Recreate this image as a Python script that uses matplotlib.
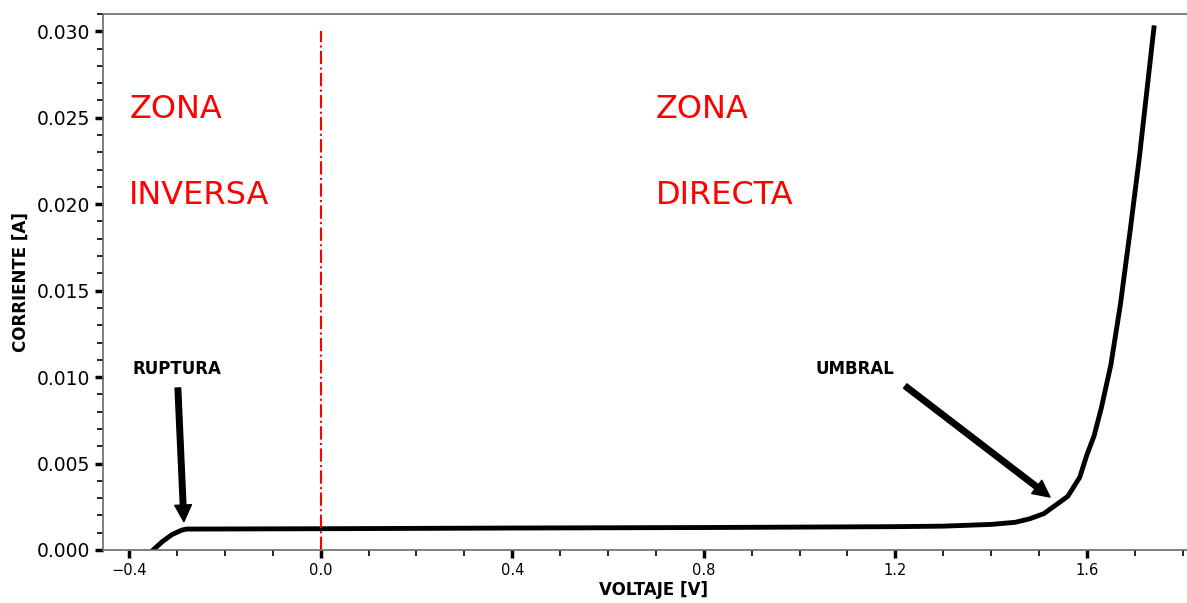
import numpy as np
import matplotlib
matplotlib.use("Agg")
import matplotlib.pyplot as plt
from matplotlib.ticker import MultipleLocator

# curva I-V del diodo
voltaje = [-0.35, -0.33, -0.31, -0.29, -0.28, 0.0, 0.4, 0.8, 1.2, 1.3, 1.4,
           1.45, 1.48, 1.51, 1.56, 1.585, 1.60, 1.615, 1.63, 1.65, 1.67,
           1.69, 1.71, 1.74]
corriente = [0.0, 0.0005, 0.0009, 0.00115, 0.00121, 0.00123, 0.00127,
             0.0013, 0.00135, 0.00138, 0.00148, 0.0016, 0.0018, 0.0021,
             0.0031, 0.0042, 0.0055, 0.0066, 0.0082, 0.0107, 0.0142,
             0.0184, 0.0228, 0.0302]

x_ticks = [-0.4, 0.0, 0.4, 0.8, 1.2, 1.6]
y_ticks = [0.000, 0.005, 0.010, 0.015, 0.020, 0.025, 0.030]

fig = plt.figure(figsize=(11.87, 6.03), dpi=100)
ax = fig.add_axes([0.0868, 0.0879, 0.9275, 0.8889])

ax.plot(voltaje, corriente, color="black", linewidth=3.5)
ax.vlines(0, 0, 0.030, colors="red", linestyles="-.", linewidth=1.5)

ax.text(-0.4, 0.025, "ZONA", color="red", fontsize=23)
ax.text(-0.4, 0.020, "INVERSA", color="red", fontsize=23)
ax.text(0.7, 0.025, "ZONA", color="red", fontsize=23)
ax.text(0.7, 0.020, "DIRECTA", color="red", fontsize=23)

ax.annotate("RUPTURA", xy=(-0.285, 0.0012), xytext=(-0.392, 0.0102),
            fontsize=12, fontweight="bold",
            arrowprops=dict(facecolor="black", shrink=0.05))
ax.annotate("UMBRAL", xy=(1.54, 0.0027), xytext=(1.033, 0.0102),
            fontsize=12, fontweight="bold",
            arrowprops=dict(facecolor="black", shrink=0.05))

ax.set_xlim(-0.4545, 1.8445)
ax.set_ylim(0, 0.031)
ax.set_xticks(x_ticks)
ax.set_xticklabels([f"{v:.1f}".replace("-", "\u2212") for v in x_ticks])
ax.set_yticks(y_ticks)
ax.set_yticklabels([f"{v:.3f}" for v in y_ticks])
ax.xaxis.set_minor_locator(MultipleLocator(0.1))
ax.yaxis.set_minor_locator(MultipleLocator(0.001))

ax.tick_params(axis="x", which="major", labelsize=10.5, length=6, width=2.5)
ax.tick_params(axis="y", which="major", labelsize=13.5, length=6, width=2.5)
ax.tick_params(which="minor", length=4, width=1.2)

for side in ["left", "bottom", "top"]:
    ax.spines[side].set_color("dimgray")
    ax.spines[side].set_linewidth(1.2)
ax.spines["right"].set_visible(False)

ax.set_xlabel("VOLTAJE [V]", fontsize=12, fontweight="bold", labelpad=2)
ax.set_ylabel("CORRIENTE [A]", fontsize=12, fontweight="bold", labelpad=5)

fig.savefig("out.png", dpi=100)
